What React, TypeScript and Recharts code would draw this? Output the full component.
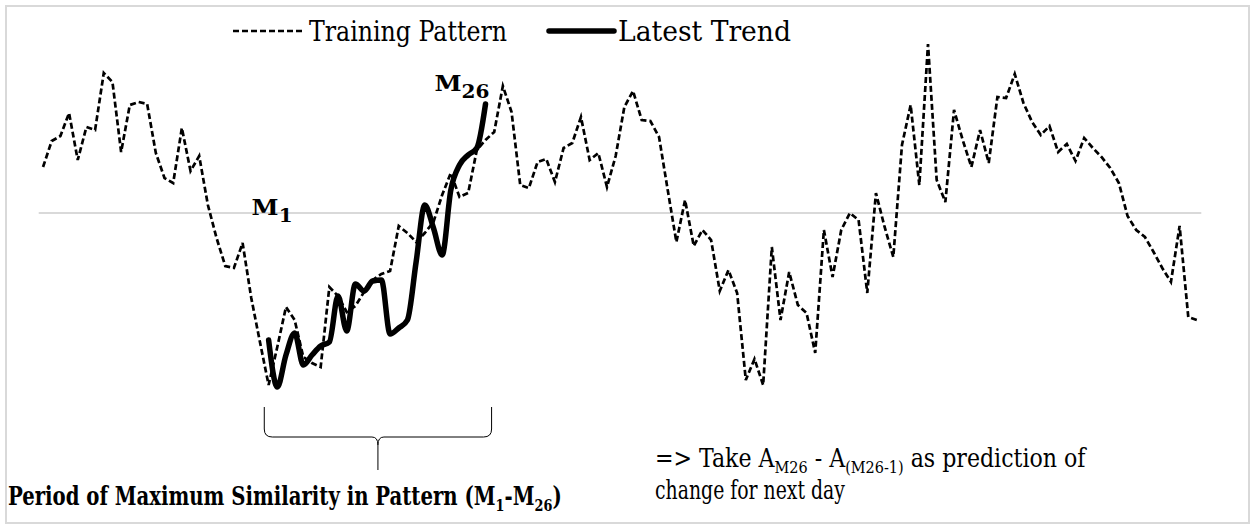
import { useLayoutEffect, useRef, useState } from 'react';
import { Legend, Line, LineChart, ReferenceDot, ReferenceLine, XAxis, YAxis } from 'recharts';

// Training pattern, one value per day (gray line = 0)
const trainingPattern = [
  23, 36, 38.5, 50, 26.5, 43, 41.5, 70, 65.5, 30.5,
  54, 55.5, 54.5, 30, 17.5, 15, 42.5, 21, 28.5, 4,
  -12.5, -26.5, -27.5, -15, -42.5, -64.5, -86, -67, -47, -53.5,
  -72, -75, -77, -37, -41.5, -49.5, -46.5, -39.5, -33.5, -30.5,
  -29, -6.5, -10, -14.5, -10, -4.5, 9, 20, 8, 10,
  31.5, 36.5, 40.5, 63.5, 50.5, 14, 12.5, 25.5, 27, 15.5,
  32.5, 35, 48, 26.5, 30, 13, 28.5, 53, 61, 46.5,
  46, 38, 11.5, -14.5, 6.5, -16.5, -8.5, -13.5, -39, -28.5,
  -40, -83.5, -73, -86, -17, -53.5, -29.5, -46, -50, -70,
  -8.5, -32, -8.5, 0, -3.5, -40, 10, -7, -22, 34,
  54, 14, 84.5, 16.5, 5.5, 51.5, 36.5, 23, 41.5, 25,
  58, 57.5, 69.5, 55, 45.5, 39, 43.5, 30.5, 34.5, 26,
  37.5, 32.5, 28, 22.5, 15, -1.5, -8.5, -12, -19.5, -27.5,
  -34.5, -6.5, -52, -53.5,
];

// Latest trend, M1..M26
const latestTrend = [
  -63.5, -87, -71, -60, -76, -71, -66.5, -64.5, -41.5, -59,
  -35.5, -39, -34, -33.5, -60.5, -57.5, -53.5, -24.5, 4, -7.5,
  -21, 11.5, 24, 29, 32.5, 54.5,
];
const trendStart = 26; // day where M1 lines up with the training pattern

const seriesNames = { training: 'Training Pattern', latest: 'Latest Trend' };

const data = trainingPattern.map((v, i) => {
  const j = i - trendStart;
  return { day: i, training: v, latest: j >= 0 && j < latestTrend.length ? latestTrend[j] : null };
});

const serif = '"DejaVu Serif Condensed", "DejaVu Serif", serif';
const dash = '6 3';

// squeezes a text run (with sub tspans) to a given width
function FitText({ x, y, width, children, ...rest }: any) {
  const ref = useRef<SVGTextElement>(null);
  const [sx, setSx] = useState(1);
  useLayoutEffect(() => {
    if (!ref.current) return;
    const w = ref.current.getBBox().width;
    if (w > 0) setSx(width / w);
  }, [width]);
  return (
    <text ref={ref} transform={`translate(${x},${y}) scale(${sx},1)`} x={0} y={0} fill="#000" {...rest}>
      {children}
    </text>
  );
}

function LegendContent() {
  return (
    <svg width={1250} height={50} style={{ display: 'block' }}>
      <line x1={233} x2={303} y1={31} y2={31} stroke="#000" strokeWidth={2.7} strokeDasharray={dash} />
      <text x={309} y={41} fontFamily={serif} fontSize={27} textLength={198} lengthAdjust="spacingAndGlyphs">
        {seriesNames.training}
      </text>
      <line x1={549} x2={614} y1={31} y2={31} stroke="#000" strokeWidth={5.5} strokeLinecap="round" />
      <text x={618} y={41} fontFamily={serif} fontSize={27} textLength={173} lengthAdjust="spacingAndGlyphs">
        {seriesNames.latest}
      </text>
    </svg>
  );
}

function MLabel({ viewBox, sub, dx, dy, len }: any) {
  const x = (viewBox?.x ?? 0) + dx;
  const y = (viewBox?.y ?? 0) + dy;
  return (
    <FitText x={x} y={y} width={len} fontFamily={serif} fontWeight="bold" fontSize={22}>
      M<tspan dy={7} fontSize={18}>{sub}</tspan>
    </FitText>
  );
}

function Brace({ x1, x2, y1 }: any) {
  const xm = (x1 + x2) / 2;
  const h = 30;
  const d = [
    `M${x1},${y1} L${x1},${y1 + h - 8} Q${x1},${y1 + h} ${x1 + 8},${y1 + h}`,
    `L${xm - 6},${y1 + h} Q${xm},${y1 + h} ${xm},${y1 + h + 8} L${xm},${y1 + 63}`,
    `M${xm},${y1 + h + 8} Q${xm},${y1 + h} ${xm + 6},${y1 + h}`,
    `L${x2 - 8},${y1 + h} Q${x2},${y1 + h} ${x2},${y1 + h - 8} L${x2},${y1}`,
  ].join(' ');
  return <path d={d} fill="none" stroke="#000" strokeWidth={1} />;
}

export default function App() {
  return (
    <div style={{ position: 'relative', width: 1250, height: 524, background: '#fff', overflow: 'hidden' }}>
      <style>{'body{margin:0}'}</style>
      <LineChart width={1250} height={524} data={data}
        margin={{ top: 13, right: 48.7, bottom: 111, left: 38.7 }}>
        <XAxis dataKey="day" type="number" domain={[-0.5, 133.5]} hide />
        <YAxis domain={[-100, 100]} hide />
        <ReferenceLine y={0} stroke="#d9d9d9" strokeWidth={2} />
        <Legend layout="vertical" align="center" verticalAlign="middle"
          wrapperStyle={{ top: 0, left: 0, width: 1250, height: 50 }}
          content={() => <LegendContent />} />
        <Line type="linear" dataKey="training" name={seriesNames.training} stroke="#000"
          strokeWidth={2.7} strokeDasharray={dash} dot={false} isAnimationActive={false} />
        <Line type="monotone" dataKey="latest" name={seriesNames.latest} stroke="#000"
          strokeWidth={5.5} strokeLinecap="round" dot={false} activeDot={false} isAnimationActive={false} />
        <ReferenceDot x={trendStart} y={0} r={0} fill="none" stroke="none" ifOverflow="visible"
          label={(p: any) => <MLabel {...p} sub="1" dx={-17} dy={2} len={41} />} />
        <ReferenceDot x={trendStart + latestTrend.length - 1} y={latestTrend[latestTrend.length - 1]}
          r={0} fill="none" stroke="none" ifOverflow="visible"
          label={(p: any) => <MLabel {...p} sub="26" dx={-51} dy={-13} len={55} />} />
        <ReferenceLine ifOverflow="visible"
          segment={[{ x: trendStart - 0.5, y: -97 }, { x: trendStart + latestTrend.length - 0.3, y: -97 }]}
          shape={(p: any) => <Brace x1={p.x1} x2={p.x2} y1={p.y1} />} />
      </LineChart>
      <svg width={1250} height={524} style={{ position: 'absolute', left: 0, top: 0, pointerEvents: 'none' }}>
        <FitText x={655} y={467} width={433} fontFamily={serif} fontSize={26}>
          {'=> Take A'}<tspan dy={6} fontSize={17}>M26</tspan><tspan dy={-6}>{' - A'}</tspan>
          <tspan dy={6} fontSize={17}>(M26-1)</tspan><tspan dy={-6}>{' as prediction of'}</tspan>
        </FitText>
        <text x={655} y={499} fontFamily={serif} fontSize={26} textLength={190} lengthAdjust="spacingAndGlyphs">
          change for next day
        </text>
        <FitText x={8} y={505} width={554} fontFamily={serif} fontWeight="bold" fontSize={26}>
          Period of Maximum Similarity in Pattern (M<tspan dy={6} fontSize={17}>1</tspan>
          <tspan dy={-6}>-M</tspan><tspan dy={6} fontSize={17}>26</tspan><tspan dy={-6}>)</tspan>
        </FitText>
      </svg>
      <div style={{ position: 'absolute', left: 5, top: 5, width: 1245, height: 519, boxSizing: 'border-box',
        border: '2px solid #d9d9d9', pointerEvents: 'none' }} />
    </div>
  );
}
